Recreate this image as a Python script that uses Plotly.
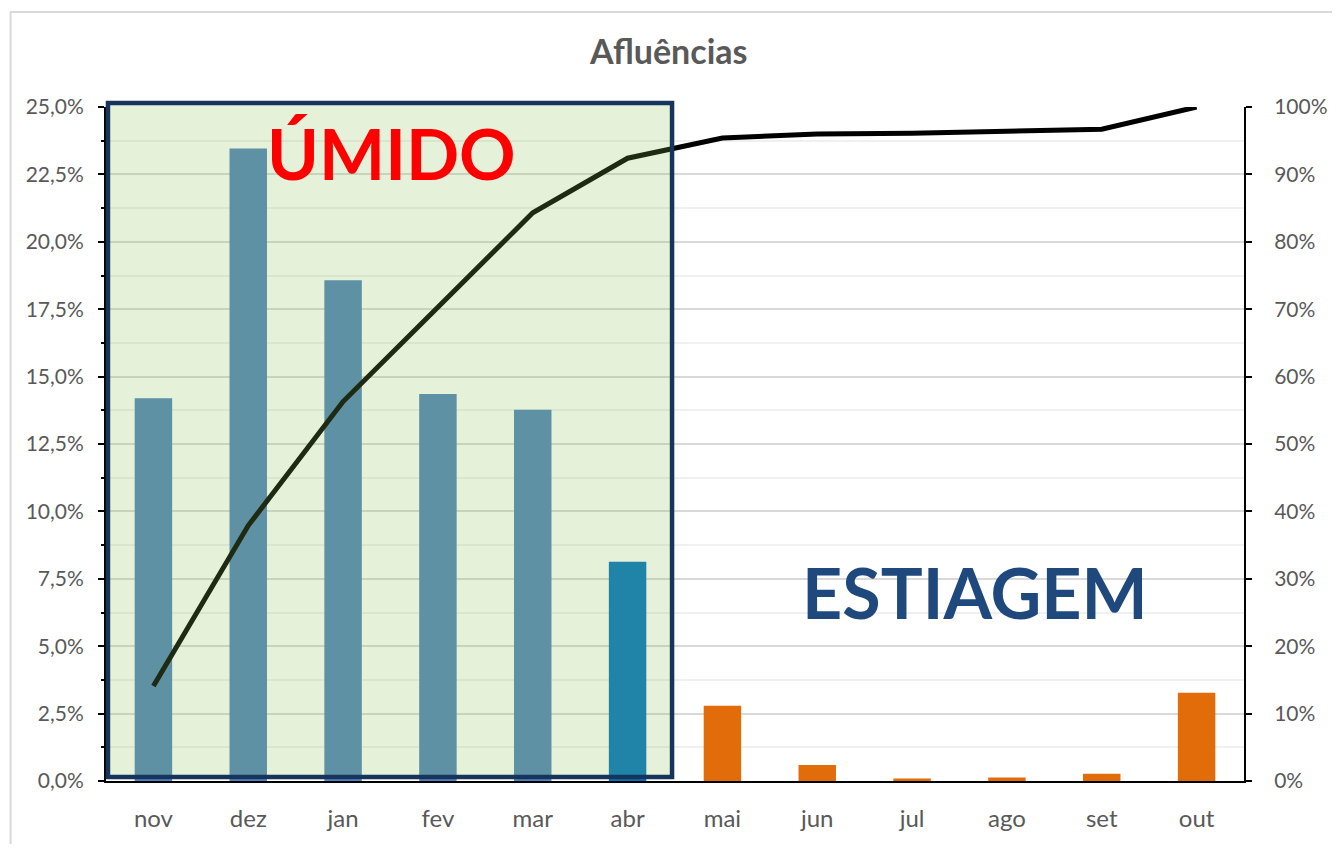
import plotly.graph_objects as go

# ---- data ----
months = ["nov", "dez", "jan", "fev", "mar", "abr", "mai", "jun", "jul", "ago", "set", "out"]
afluencia = [0.1420, 0.2346, 0.1857, 0.1435, 0.1377, 0.0813, 0.0279, 0.0059, 0.0009, 0.0013, 0.0027, 0.0327]
acumulado = [0.141, 0.379, 0.563, 0.703, 0.843, 0.924, 0.954, 0.960, 0.961, 0.964, 0.967, 1.000]
periodo = ["umido"] * 6 + ["estiagem"] * 6
y_left_ticks = [i * 0.025 for i in range(11)]
y_right_ticks = [i * 0.1 for i in range(11)]

title_text = "Afluências"
label_umido = "ÚMIDO"
label_estiagem = "ESTIAGEM"

# ---- styles ----
col_wet = "#5284bc"      # appears teal-grey under green overlay
col_abr = "#0373c0"
col_dry = "#e36c0a"
bar_colors = []
for m, p in zip(months, periodo):
    if p == "estiagem":
        bar_colors.append(col_dry)
    elif m == "abr":
        bar_colors.append(col_abr)
    else:
        bar_colors.append(col_wet)

FONT = "Lato, 'Open Sans', sans-serif"
GREY = "#595959"

OFF = 8  # page body margin
W, H = 1332, 836
ML, MR, MT, MB = 98, 77, 99, 56
PW, PH = W - ML - MR, H - MT - MB


def px_x(px):
    return (px - OFF - ML) / PW


def px_y(py):
    return (H - MB - (py - OFF)) / PH


fig = go.Figure()
fig.add_trace(go.Bar(
    x=months, y=afluencia, marker=dict(color=bar_colors, line=dict(width=0)),
    yaxis="y", name="Afluência", showlegend=False,
))
fig.add_trace(go.Scatter(
    x=months, y=acumulado, yaxis="y2", mode="lines",
    line=dict(color="#000000", width=5), showlegend=False, name="Acumulado",
))

shapes = [
    # outer chart border
    dict(type="rect", xref="paper", yref="paper",
         x0=px_x(9), x1=px_x(1400), y0=px_y(900), y1=px_y(11),
         line=dict(color="#d9d9d9", width=2), fillcolor="rgba(0,0,0,0)", layer="below"),
    # green translucent overlay for wet season
    dict(type="rect", xref="paper", yref="paper",
         x0=px_x(108), x1=px_x(681.5), y0=px_y(784), y1=px_y(103),
         line=dict(width=0), fillcolor="rgba(136,191,82,0.22)", layer="above"),
    # border of the wet-season box
    dict(type="rect", xref="paper", yref="paper",
         x0=px_x(108), x1=px_x(681.5), y0=px_y(784), y1=px_y(103),
         line=dict(color="#17345c", width=4.5), fillcolor="rgba(0,0,0,0)", layer="above"),
]

annotations = [
    dict(text=label_umido, xref="paper", yref="paper", x=px_x(396), y=px_y(153),
         xanchor="center", yanchor="middle", showarrow=False,
         font=dict(family=FONT, size=70, color="#ff0000", weight=700)),
    dict(text=label_estiagem, xref="paper", yref="paper", x=px_x(990), y=px_y(597),
         xanchor="center", yanchor="middle", showarrow=False,
         font=dict(family=FONT, size=70, color="#1f497d", weight=700)),
]

fig.update_layout(
    width=W, height=H,
    margin=dict(l=ML, r=MR, t=MT, b=MB, pad=0),
    paper_bgcolor="white", plot_bgcolor="white",
    separators=",.",
    bargap=0.605,
    title=dict(text=title_text, x=px_x(680), xanchor="center", y=1 - (52 - OFF) / H, yanchor="middle",
               font=dict(family=FONT, size=34, color=GREY, weight=700)),
    font=dict(family=FONT, color=GREY),
    xaxis=dict(
        type="category", showline=True, linecolor="#000000", linewidth=2,
        ticks="", tickfont=dict(size=24, color=GREY), ticklabelstandoff=15,
        showgrid=False, zeroline=False,
    ),
    yaxis=dict(
        range=[0, 0.25], tickvals=y_left_ticks, tickformat=".1%",
        showline=True, linecolor="#000000", linewidth=2,
        ticks="outside", ticklen=6, tickwidth=2, tickcolor="#000000",
        tickfont=dict(size=21, color=GREY), ticklabelstandoff=10,
        showgrid=True, gridcolor="#d9d9d9", gridwidth=2, zeroline=False,
        minor=dict(dtick=0.0125, ticks="outside", ticklen=3, tickwidth=1.5, tickcolor="#000000",
                   showgrid=True, gridcolor="#f0f0f0", gridwidth=2),
    ),
    yaxis2=dict(
        range=[0, 1], tickvals=y_right_ticks, tickformat=".0%", overlaying="y", side="right",
        showline=True, linecolor="#000000", linewidth=2,
        ticks="outside", ticklen=6, tickwidth=2, tickcolor="#000000",
        tickfont=dict(size=21, color=GREY), ticklabelstandoff=18,
        showgrid=False, zeroline=False,
    ),
    shapes=shapes,
    annotations=annotations,
)

fig.write_html("out.html")
